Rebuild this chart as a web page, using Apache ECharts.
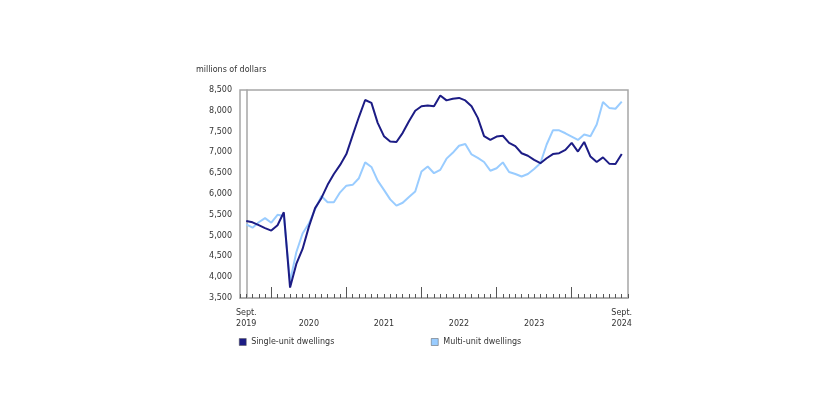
<!DOCTYPE html>
<html>
<head>
<meta charset="utf-8">
<script src="https://cdn.jsdelivr.net/npm/echarts@6/dist/echarts.min.js"></script>
<style>html,body{margin:0;padding:0;background:#fff;}#c{width:840px;height:420px;}</style>
</head>
<body>
<div id="c"></div>
<script>
// Months Sept 2019 .. Sept 2024 (index 0..60)
var months = [];
(function(){ var y=2019,m=9; for (var i=0;i<61;i++){ months.push(y+'-'+(m<10?'0':'')+m); m++; if(m>12){m=1;y++;} } })();

var singleUnit = [5350,5320,5250,5180,5120,5250,5560,3750,4320,4680,
                  5210,5660,5900,6220,6480,6700,6960,7410,7850,8260,
                  8190,7710,7390,7260,7250,7470,7750,8000,8110,8130,
                  8110,8370,8250,8290,8310,8250,8110,7830,7390,7300,
                  7380,7400,7230,7150,6980,6920,6820,6740,6860,6960,
                  6980,7060,7230,7020,7250,6900,6770,6880,6730,6720,6960];
var multiUnit  = [5270,5190,5320,5420,5310,5500,5470,3900,4600,5050,
                  5290,5630,5950,5800,5800,6040,6200,6220,6380,6760,
                  6650,6320,6100,5870,5720,5790,5930,6060,6540,6660,
                  6500,6580,6850,6990,7160,7200,6950,6870,6770,6560,
                  6620,6760,6530,6480,6420,6480,6600,6740,7190,7530,
                  7530,7460,7380,7300,7430,7390,7670,8210,8070,8050,8220];

var majorTickIdx = [4,16,28,40,52];
var labelIdx = [0,10,22,34,46,60];
var labelText = ['Sept.\n2019',' \n2020',' \n2021',' \n2022',' \n2023','Sept.\n2024'];
var yTicks = [3500,4000,4500,5000,5500,6000,6500,7000,7500,8000,8500];

var FONT = 'DejaVu Sans';
var TXT = '#333333';
var AX = '#a6a6a6';
var DARK = '#1c1c85';
var LIGHT = '#99ccff';

function pairs(arr){ return arr.map(function(v,i){ return [i,v]; }); }

var chart = echarts.init(document.getElementById('c'), null, {renderer:'canvas'});
chart.setOption({
  animation:false,
  backgroundColor:'#ffffff',
  title:{text:'millions of dollars', left:196, top:66, padding:0,
    textStyle:{fontFamily:FONT, fontSize:8, fontWeight:'normal', color:TXT}},
  legend:[
    {left:239, top:338, padding:0, itemWidth:7, itemHeight:7, itemGap:6, icon:'rect',
     textStyle:{fontFamily:FONT, fontSize:8, color:TXT},
     data:[{name:'Single-unit dwellings', itemStyle:{color:DARK, borderColor:'#555', borderWidth:0.5}}]},
    {left:431, top:338, padding:0, itemWidth:7, itemHeight:7, itemGap:6, icon:'rect',
     textStyle:{fontFamily:FONT, fontSize:8, color:TXT},
     data:[{name:'Multi-unit dwellings', itemStyle:{color:LIGHT, borderColor:'#555', borderWidth:0.5}}]}
  ],
  grid:{left:240, right:212, top:90, bottom:122, show:true, borderColor:AX, borderWidth:1.5, backgroundColor:'transparent'},
  xAxis:[
    {type:'value', min:-1, max:61, interval:1, position:'bottom',
     axisLine:{show:true, lineStyle:{color:AX, width:1.5}},
     axisTick:{show:true, inside:true, length:4, lineStyle:{color:'#555', width:1}},
     axisLabel:{show:false}, splitLine:{show:false}},
    {type:'value', min:-1, max:61, position:'bottom',
     axisLine:{show:false},
     axisTick:{show:true, inside:true, length:11, customValues:majorTickIdx, lineStyle:{color:'#555', width:1}},
     axisLabel:{show:true, customValues:labelIdx, margin:9, lineHeight:11,
       fontFamily:FONT, fontSize:8, color:TXT,
       formatter:function(v){ var k=labelIdx.indexOf(Math.round(v)); return k>=0?labelText[k]:''; }},
     splitLine:{show:false}}
  ],
  yAxis:{type:'value', min:3500, max:8500, interval:500,
    axisLine:{show:true, lineStyle:{color:AX, width:1.5}},
    axisTick:{show:false}, splitLine:{show:false},
    axisLabel:{margin:8, fontFamily:FONT, fontSize:8, color:TXT,
      formatter:function(v){ return v.toLocaleString('en-US'); }}},
  series:[
    {name:'Multi-unit dwellings', type:'line', xAxisIndex:0, data:pairs(multiUnit), showSymbol:false, symbol:'none',
     lineStyle:{color:LIGHT, width:2}, itemStyle:{color:LIGHT}, z:2},
    {name:'Single-unit dwellings', type:'line', xAxisIndex:0, data:pairs(singleUnit), showSymbol:false, symbol:'none',
     lineStyle:{color:DARK, width:2}, itemStyle:{color:DARK}, z:3}
  ]
});
</script>
</body>
</html>
